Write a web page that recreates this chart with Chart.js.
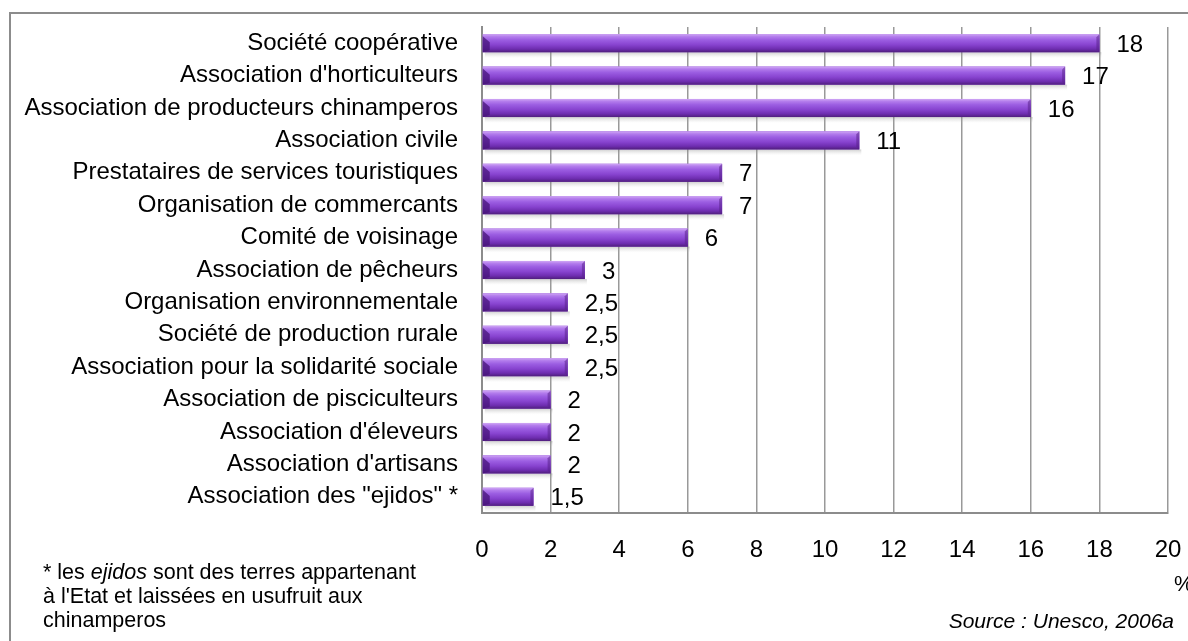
<!DOCTYPE html>
<html lang="fr">
<head>
<meta charset="utf-8">
<title>Organisations</title>
<script src="https://cdn.jsdelivr.net/npm/chart.js@4/dist/chart.umd.min.js"></script>
<style>
  html, body { margin: 0; padding: 0; background: #fff; }
  #wrap { position: relative; width: 1188px; height: 641px; overflow: hidden; }
  #frame { position: absolute; left: 9px; top: 12px; width: 1300px; height: 700px;
           border-left: 2px solid #8c8c8c; border-top: 2px solid #8c8c8c; }
  canvas { position: absolute; left: 0; top: 0; }
  .note { position: absolute; font-family: "Liberation Sans", Arial, sans-serif; color: #000; }
  #foot { left: 43px; top: 560px; font-size: 21.5px; line-height: 24px; }
  #pct { left: 1174px; top: 571px; font-size: 22px; }
  #src { right: 14px; top: 609px; font-size: 21px; font-style: italic; }
</style>
</head>
<body>
<div id="wrap">
  <div id="frame"></div>
  <canvas id="c" width="1188" height="641"></canvas>
  <div class="note" id="foot">* les <i>ejidos</i> sont des terres appartenant<br>à l'Etat et laissées en usufruit aux<br>chinamperos</div>
  <div class="note" id="pct">%</div>
  <div class="note" id="src">Source : Unesco, 2006a</div>
</div>
<script>
// Types d'organisations et part en %
const categories = [
  "Société coopérative",
  "Association d'horticulteurs",
  "Association de producteurs chinamperos",
  "Association civile",
  "Prestataires de services touristiques",
  "Organisation de commercants",
  "Comité de voisinage",
  "Association de pêcheurs",
  "Organisation environnementale",
  "Société de production rurale",
  "Association pour la solidarité sociale",
  "Association de pisciculteurs",
  "Association d'éleveurs",
  "Association d'artisans",
  "Association des \"ejidos\" *"
];
const values = [18, 17, 16, 11, 7, 7, 6, 3, 2.5, 2.5, 2.5, 2, 2, 2, 1.5];
const xTicks = [0, 2, 4, 6, 8, 10, 12, 14, 16, 18, 20];

const FONT = '"Liberation Sans", Arial, sans-serif';

// Relief des barres : dégradé vertical, biseau à gauche, ombre portée
const bevelBars = {
  id: 'bevelBars',
  afterDatasetsDraw(chart) {
    const ctx = chart.ctx;
    const meta = chart.getDatasetMeta(0);
    meta.data.forEach(bar => {
      const x0 = bar.base, x1 = bar.x;
      const h = bar.height, top = bar.y - h / 2, bot = bar.y + h / 2;
      ctx.save();
      // ombre sous la barre
      const sh = ctx.createLinearGradient(0, bot, 0, bot + 6);
      sh.addColorStop(0, 'rgba(120,120,120,0.35)');
      sh.addColorStop(1, 'rgba(200,200,200,0)');
      ctx.fillStyle = sh;
      ctx.fillRect(x0 + 2, bot, x1 - x0, 6);
      // corps
      const g = ctx.createLinearGradient(0, top, 0, bot);
      g.addColorStop(0, '#d0a8f5');
      g.addColorStop(0.14, '#b37cec');
      g.addColorStop(0.32, '#9c5ee2');
      g.addColorStop(0.58, '#8844d0');
      g.addColorStop(0.82, '#6e2db0');
      g.addColorStop(1, '#4f1e7c');
      ctx.fillStyle = g;
      ctx.fillRect(x0, top, x1 - x0, h);
      // biseau gauche
      ctx.fillStyle = 'rgba(70,20,120,0.75)';
      ctx.beginPath();
      ctx.moveTo(x0, top + 2);
      ctx.lineTo(x0 + Math.min(7, (x1 - x0) / 3), top + h * 0.45);
      ctx.lineTo(x0 + Math.min(7, (x1 - x0) / 3), bot - 2);
      ctx.lineTo(x0, bot);
      ctx.closePath();
      ctx.fill();
      // biseau droit
      ctx.fillStyle = 'rgba(90,35,140,0.55)';
      ctx.beginPath();
      ctx.moveTo(x1, top);
      ctx.lineTo(x1 - 3, top + 3);
      ctx.lineTo(x1 - 3, bot - 3);
      ctx.lineTo(x1, bot);
      ctx.closePath();
      ctx.fill();
      ctx.restore();
    });
  }
};

// Valeurs à droite de chaque barre
const valueLabels = {
  id: 'valueLabels',
  afterDatasetsDraw(chart) {
    const ctx = chart.ctx;
    const meta = chart.getDatasetMeta(0);
    ctx.save();
    ctx.font = '24px ' + FONT;
    ctx.fillStyle = '#000';
    ctx.textAlign = 'left';
    ctx.textBaseline = 'middle';
    meta.data.forEach((bar, i) => {
      ctx.fillText(String(values[i]).replace('.', ','), bar.x + 17, bar.y + 2);
    });
    ctx.restore();
  }
};

new Chart(document.getElementById('c'), {
  type: 'bar',
  data: {
    labels: categories,
    datasets: [{
      data: values,
      backgroundColor: '#8844d0',
      borderWidth: 0,
      barPercentage: 0.56,
      categoryPercentage: 1
    }]
  },
  options: {
    indexAxis: 'y',
    responsive: false,
    animation: false,
    events: [],
    layout: { padding: { top: 27, right: 20, left: 0, bottom: 0 } },
    plugins: { legend: { display: false }, tooltip: { enabled: false } },
    scales: {
      x: {
        type: 'linear',
        min: 0,
        max: 20,
        afterBuildTicks: s => { s.ticks = xTicks.map(v => ({ value: v })); },
        afterFit: s => { s.height = 128; s.paddingLeft = 0; s.paddingRight = 0; },
        grid: { color: '#999', lineWidth: 1.5, drawTicks: false },
        border: { color: '#8c8c8c', width: 2 },
        ticks: { color: '#000', font: { family: FONT, size: 24 }, padding: 23 }
      },
      y: {
        afterFit: s => { s.width = 482; s.paddingTop = 0; s.paddingBottom = 0; },
        grid: { display: false, drawTicks: false },
        border: { color: '#8c8c8c', width: 2 },
        ticks: { color: '#000', font: { family: FONT, size: 24 }, padding: 24, autoSkip: false }
      }
    }
  },
  plugins: [bevelBars, valueLabels]
});
</script>
</body>
</html>
